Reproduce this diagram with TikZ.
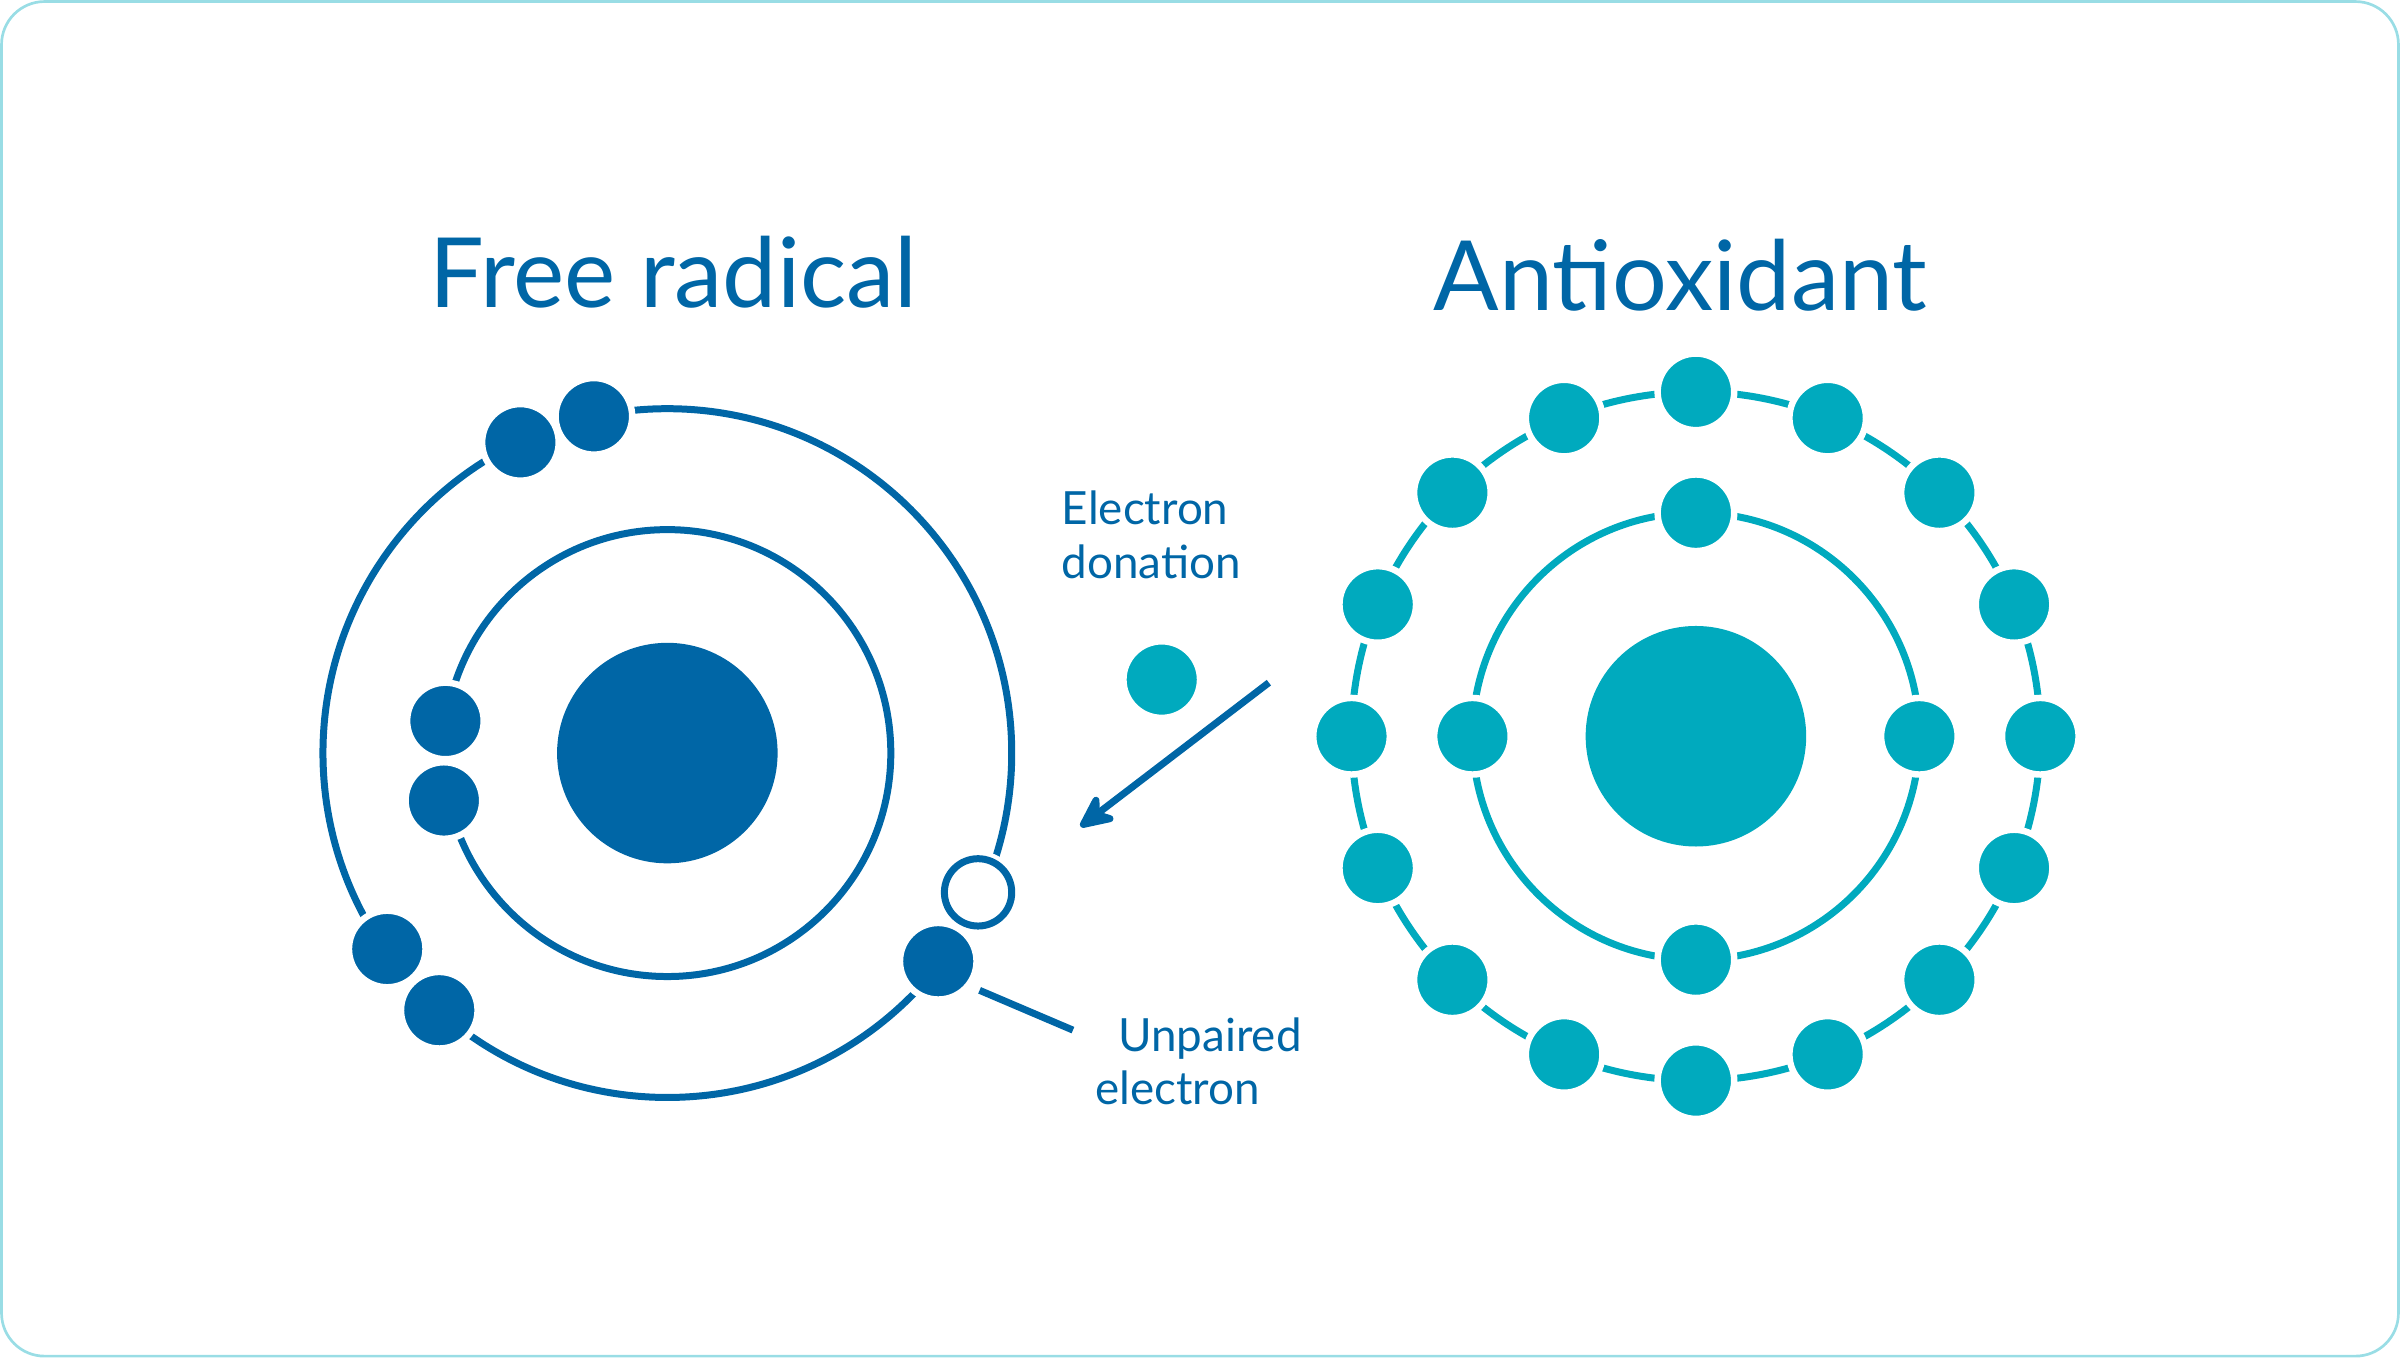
\documentclass[tikz,border=0pt]{standalone}
\usepackage{fontspec}
\setmainfont{Lato}
\usetikzlibrary{arrows.meta}
\definecolor{fr}{HTML}{0066A6}
\definecolor{ao}{HTML}{00AABE}
\begin{document}
\begin{tikzpicture}[x=0.01cm,y=-0.01cm,
  elec/.style={circle,fill=#1,draw=white,line width=1.2pt,minimum size=0.5cm,inner sep=0pt},
  orb/.style={draw=#1,line width=1.3pt},
  lab/.style={text=fr,font=\fontsize{8.5}{10}\selectfont,align=left,inner sep=0pt},
  ttl/.style={text=fr,font=\fontsize{18}{20}\selectfont}]
\useasboundingbox (0,0) rectangle (1568,887);
\draw[draw=ao!40,line width=0.5pt,rounded corners=8] (1,1) rectangle (1567,886);
% Free radical
\node[ttl] (t1) at (440,178) {Free radical};
\draw[orb=fr] (436,492) circle (225);
\draw[orb=fr] (436,492) circle (146);
\node[circle,fill=fr,minimum size=1.44cm,inner sep=0pt] (n1) at (436,492) {};
\foreach \p [count=\i] in {(340,289),(388,272),(253,620),(287,660),(613,628),(291,471),(290,523)}
  \node[elec=fr] (f\i) at \p {};
\node[circle,fill=white,draw=white,line width=1.2pt,minimum size=0.5cm,inner sep=0pt] (u) at (639,583) {};
\draw[fr,line width=1.3pt] (639,583) circle (22);
% Antioxidant
\node[ttl] (t2) at (1098,180) {Antioxidant};
\draw[orb=ao] (1108,481) circle (146);
\draw[orb=ao] (1108,481) circle (225);
\node[circle,fill=ao,minimum size=1.44cm,inner sep=0pt] (n2) at (1108,481) {};
\foreach \a [count=\i] in {0,22.5,...,337.5}
  \node[elec=ao] (o\i) at ({1108+225*sin(\a)},{481-225*cos(\a)}) {};
\foreach \a [count=\i] in {0,90,180,270}
  \node[elec=ao] (i\i) at ({1108+146*sin(\a)},{481-146*cos(\a)}) {};
% donated electron
\node[elec=ao] (d) at (759,444) {};
\coordinate (as) at (829,446);
\coordinate (ae) at (706,540);
\draw[fr,line width=1.3pt,-{Stealth[length=0.28cm,width=0.26cm,round]}] (as) -- (ae);
\node[lab,anchor=north west] (l1) at (693,320) {Electron\\donation};
\coordinate (ua) at (640,647);
\coordinate (ub) at (701,673);
\draw[fr,line width=1.3pt] (ua) -- (ub);
\node[lab,anchor=north west] (l2) at (715,664) {\hspace*{0.5em}Unpaired\\electron};
\end{tikzpicture}
\end{document}
